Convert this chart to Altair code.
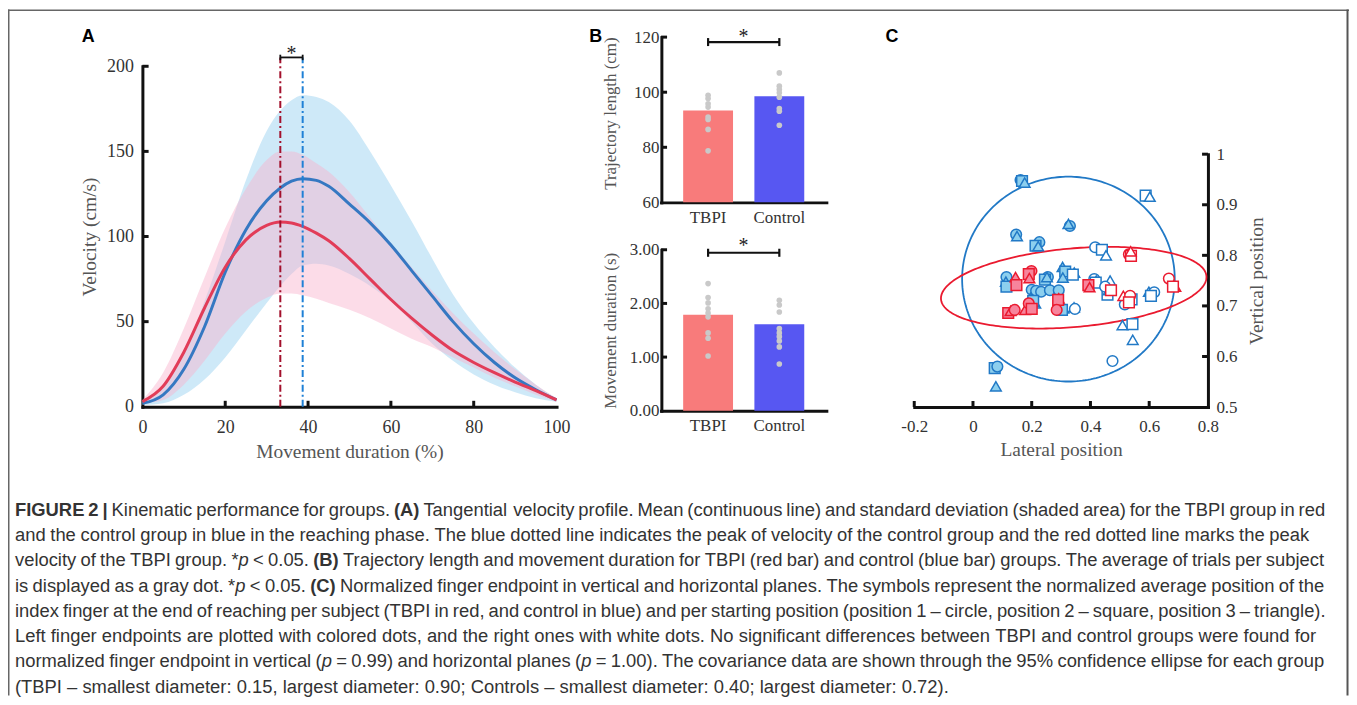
import re
import numpy as np
import pandas as pd
import altair as alt

W, H = 1347, 689
SERIF = "Liberation Serif"
SANS = "Liberation Sans"
AX = "#111111"

# ---------------- Panel A : velocity profile ----------------
pct = [0, 5, 10, 15, 20, 25, 30, 33.3, 36, 38.7, 42, 45, 50, 55, 60, 65, 70, 75, 80, 85, 90, 95, 100]
ctrl_mean = [2, 7, 22, 47, 79, 104, 121, 128.5, 132.5, 134, 133, 129.5, 119, 108, 95, 80, 65, 50, 37, 26, 17, 10, 4]
ctrl_upper = [3, 11, 32, 62, 97, 133, 162, 174, 180, 183, 182, 179, 168, 150, 130, 109, 87, 66, 49, 35, 23, 13, 5]
ctrl_lower = [1, 2, 7, 16, 29, 45, 61, 71, 78, 83, 84, 83, 78, 71, 62, 50, 37, 27, 19, 13, 8.5, 5, 3]
tbpi_mean = [3, 12, 32, 58, 82, 98, 106.5, 108.5, 108, 106, 102, 97.5, 87, 75, 63, 52, 42, 33, 26, 20, 14.5, 9.5, 4]
tbpi_upper = [4, 20, 46, 76, 105, 128, 145, 150, 150, 148, 143, 138, 126, 111, 96, 82, 68, 55, 43, 32, 22, 13, 5]
tbpi_lower = [2, 4, 13, 27, 43, 56, 64, 66.5, 66.5, 65.5, 63.5, 61, 57, 52, 46, 40, 35, 29, 23, 17, 12, 7, 3]
peak_tbpi = 33.3
peak_ctrl = 38.7
a_xticks = [0, 20, 40, 60, 80, 100]
a_yticks = [0, 50, 100, 150, 200]

# ---------------- Panel B : bars ----------------
groups = ["TBPI", "Control"]
traj_mean = [93.4, 98.5]
traj_tbpi_trials = [98.9, 97.7, 95.8, 94.6, 91.0, 90.1, 86.5, 78.7]
traj_ctrl_trials = [107.0, 102.2, 101.0, 99.8, 98.2, 94.1, 93.1, 88.0]
dur_mean = [1.79, 1.61]
dur_tbpi_trials = [2.37, 2.11, 2.01, 1.90, 1.82, 1.75, 1.45, 1.35, 1.02]
dur_ctrl_trials = [2.06, 1.97, 1.84, 1.53, 1.45, 1.38, 1.30, 1.19, 0.87]
b1_yticks = [60, 80, 100, 120]
b2_yticks = [0, 1, 2, 3]

# ---------------- Panel C : endpoints ----------------
c_group = (["Control"] * 57) + (["TBPI"] * 26)
c_side = (["Left"] * 32) + (["Right"] * 25) + (["Left"] * 16) + (["Right"] * 10)
c_shape = [
    "circle", "square", "triangle", "circle", "triangle", "circle", "triangle", "circle", "square", "triangle",
    "circle", "triangle", "square", "circle", "square", "triangle", "triangle", "square", "triangle", "circle",
    "circle", "circle", "circle", "triangle", "triangle", "square", "circle", "triangle", "square", "square",
    "circle", "triangle",
    "square", "triangle", "circle", "square", "triangle", "triangle", "square", "triangle", "circle", "circle",
    "triangle", "square", "triangle", "square", "triangle", "circle", "circle", "square", "triangle", "circle",
    "square", "triangle", "square", "triangle", "circle",
    "triangle", "square", "circle", "square", "triangle", "triangle", "square", "circle", "square", "triangle",
    "circle", "triangle", "circle", "square", "square", "triangle",
    "circle", "square", "triangle", "triangle", "circle", "square", "circle", "triangle", "square", "square",
]
c_x = [
    0.162, 0.167, 0.176, 0.330, 0.325, 0.147, 0.150, 0.226, 0.213, 0.222,
    0.114, 0.112, 0.114, 0.255, 0.245, 0.252, 0.305, 0.314, 0.306, 0.200,
    0.215, 0.232, 0.262, 0.196, 0.212, 0.205, 0.292, 0.308, 0.303, 0.074,
    0.083, 0.078,
    0.588, 0.602, 0.416, 0.439, 0.453, 0.345, 0.340, 0.344, 0.347, 0.413,
    0.420, 0.418, 0.467, 0.458, 0.462, 0.450, 0.517, 0.540, 0.599, 0.617,
    0.606, 0.509, 0.543, 0.544, 0.475,
    0.145, 0.148, 0.199, 0.190, 0.192, 0.292, 0.290, 0.285, 0.120, 0.128,
    0.142, 0.177, 0.190, 0.200, 0.393, 0.397,
    0.531, 0.538, 0.537, 0.512, 0.535, 0.531, 0.667, 0.689, 0.681, 0.470,
]
c_y = [
    0.949, 0.947, 0.944, 0.858, 0.862, 0.841, 0.838, 0.826, 0.819, 0.818,
    0.757, 0.748, 0.738, 0.757, 0.752, 0.757, 0.777, 0.768, 0.756, 0.732,
    0.730, 0.728, 0.731, 0.716, 0.705, 0.710, 0.731, 0.695, 0.692, 0.577,
    0.580, 0.541,
    0.918, 0.916, 0.816, 0.811, 0.800, 0.766, 0.762, 0.697, 0.694, 0.753,
    0.750, 0.746, 0.750, 0.722, 0.731, 0.738, 0.703, 0.713, 0.728, 0.727,
    0.720, 0.662, 0.664, 0.633, 0.591,
    0.757, 0.741, 0.769, 0.763, 0.755, 0.715, 0.712, 0.692, 0.686, 0.690,
    0.692, 0.692, 0.705, 0.694, 0.741, 0.737,
    0.802, 0.799, 0.808, 0.720, 0.720, 0.707, 0.754, 0.738, 0.738, 0.731,
]
# 95% confidence ellipses: centre, first and second semi-axis vectors
ell_group = ["Control", "TBPI"]
ell_center = [(0.325, 0.753), (0.343, 0.736)]
ell_axis1 = [(0.362, 0.0), (0.452, 0.021)]
ell_axis2 = [(0.0, 0.2025), (0.0, 0.078)]
c_xticks = [-0.2, 0, 0.2, 0.4, 0.6, 0.8]
c_yticks = [0.5, 0.6, 0.7, 0.8, 0.9, 1.0]

# ---------------- Caption ----------------
caption_lines = [
    "**FIGURE 2 |** Kinematic performance for groups. **(A)** Tangential velocity profile. Mean (continuous line) and standard deviation (shaded area) for the TBPI group in red",
    "and the control group in blue in the reaching phase. The blue dotted line indicates the peak of velocity of the control group and the red dotted line marks the peak",
    "velocity of the TBPI group. *_p_ < 0.05. **(B)** Trajectory length and movement duration for TBPI (red bar) and control (blue bar) groups. The average of trials per subject",
    "is displayed as a gray dot. *_p_ < 0.05. **(C)** Normalized finger endpoint in vertical and horizontal planes. The symbols represent the normalized average position of the",
    "index finger at the end of reaching per subject (TBPI in red, and control in blue) and per starting position (position 1 \u2013 circle, position 2 \u2013 square, position 3 \u2013 triangle).",
    "Left finger endpoints are plotted with colored dots, and the right ones with white dots. No significant differences between TBPI and control groups were found for",
    "normalized finger endpoint in vertical (_p_ = 0.99) and horizontal planes (_p_ = 1.00). The covariance data are shown through the 95% confidence ellipse for each group",
    "(TBPI \u2013 smallest diameter: 0.15, largest diameter: 0.90; Controls \u2013 smallest diameter: 0.40; largest diameter: 0.72).",
]
caption_right = [1331, 1315, 1330, 1330, 1331.5, 1322, 1330, None]
caption_left = 15
caption_top = 510.5
caption_step = 25.4
panel_letters = ["A", "B", "C"]
panel_letter_x = [88.7, 598.3, 896]
panel_letter_y = 35

# ===================================================================
def bottom_axis(values, axis_y, title, lsize, tsize, lpad, title_dy, label_expr=None, fmt=None):
    kw = dict(orient="bottom", offset=axis_y - 8 - H, ticks=False, tickSize=0,
              domainWidth=3, domainColor=AX, domainCap="square", grid=False,
              labelFont=SERIF, labelFontSize=lsize, labelColor="#333333", labelPadding=lpad,
              labelBaseline="middle", labelAlign="center", labelAngle=0, labelFlush=False, labelOverlap=False,
              titleFont=SERIF, titleFontSize=tsize, titleFontWeight="normal", titleColor="#555555",
              titleY=title_dy, titleBaseline="middle")
    kw["title"] = title if title else ""
    if values is not None:
        kw["values"] = values
    if label_expr:
        kw["labelExpr"] = label_expr
    if fmt:
        kw["format"] = fmt
    return alt.Axis(**kw)


def side_axis(values, orient, axis_x, title, lsize, tsize, lpad, title_dx, title_y=None, fmt=None):
    off = (-(axis_x - 8)) if orient == "left" else (axis_x - 8 - W)
    kw = dict(values=values, orient=orient, offset=off, title=title, ticks=False, tickSize=0,
              domainWidth=3, domainColor=AX, domainCap="square", grid=False,
              labelFont=SERIF, labelFontSize=lsize, labelColor="#333333", labelPadding=lpad,
              labelBaseline="middle", labelAlign="right" if orient == "left" else "left", labelAngle=0,
              labelFlush=False, labelOverlap=False,
              titleFont=SERIF, titleFontSize=tsize, titleFontWeight="normal", titleColor="#555555",
              titleX=title_dx, titleBaseline="middle", titleAngle=270, titleAlign="center")
    if title_y is not None:
        kw["titleY"] = title_y
    if fmt:
        kw["format"] = fmt
    return alt.Axis(**kw)

# ---------------- Panel A ----------------
A_x = alt.Scale(domain=[0, 100], range=[143 - 8, 559 - 8], nice=False, zero=False)
A_y = alt.Scale(domain=[0, 200], range=[407 - 8, 65 - 8], nice=False, zero=False)
dfA = pd.DataFrame({"pct": pct, "cm": ctrl_mean, "cu": ctrl_upper, "cl": ctrl_lower,
                    "tm": tbpi_mean, "tu": tbpi_upper, "tl": tbpi_lower})
axA_x = bottom_axis(a_xticks, 407, "Movement duration (%)", 18, 19.5, 21, 44.5)
axA_y = side_axis(a_yticks, "left", 143, "Velocity (cm/s)", 18, 19.5, 9, -53)

baseA = alt.Chart(dfA)
A_band_c = baseA.mark_area(color="#9dd3f2", opacity=0.5, interpolate="monotone").encode(
    x=alt.X("pct:Q", scale=A_x, axis=axA_x), y=alt.Y("cu:Q", scale=A_y, axis=axA_y), y2="cl:Q")
A_band_t = baseA.mark_area(color="#f8b1cc", opacity=0.45, interpolate="monotone").encode(
    x=alt.X("pct:Q", scale=A_x), y=alt.Y("tu:Q", scale=A_y), y2="tl:Q")
A_line_c = baseA.mark_line(color="#3578c2", strokeWidth=3, interpolate="monotone").encode(
    x=alt.X("pct:Q", scale=A_x), y=alt.Y("cm:Q", scale=A_y))
A_line_t = baseA.mark_line(color="#e23c58", strokeWidth=3, interpolate="monotone").encode(
    x=alt.X("pct:Q", scale=A_x), y=alt.Y("tm:Q", scale=A_y))
one = pd.DataFrame({"k": [0]})
A_peak_t = alt.Chart(one).mark_rule(color="#a3102c", strokeWidth=2, strokeDash=[7, 3, 2, 3]).encode(
    x=alt.XDatum(peak_tbpi, scale=A_x), y=alt.YDatum(0, scale=A_y), y2=alt.Y2Datum(205.2))
A_peak_c = alt.Chart(one).mark_rule(color="#1f80d6", strokeWidth=2, strokeDash=[7, 3, 2, 3]).encode(
    x=alt.XDatum(peak_ctrl, scale=A_x), y=alt.YDatum(0, scale=A_y), y2=alt.Y2Datum(205.2))
A_br = alt.Chart(one).mark_rule(color=AX, strokeWidth=1.8).encode(
    x=alt.XDatum(peak_tbpi, scale=A_x), x2=alt.X2Datum(peak_ctrl),
    y=alt.YDatum(205.2, scale=A_y))
A_br_ends = alt.Chart(pd.DataFrame({"p": [peak_tbpi, peak_ctrl]})).mark_rule(color=AX, strokeWidth=1.8).encode(
    x=alt.X("p:Q", scale=A_x), y=alt.YDatum(203.6, scale=A_y), y2=alt.Y2Datum(206.8))
A_star = alt.Chart(one).mark_text(text="*", font=SERIF, fontSize=20, baseline="alphabetic", color="#222222").encode(
    x=alt.XDatum((peak_tbpi + peak_ctrl) / 2, scale=A_x), y=alt.YDatum(203.8, scale=A_y))
A_xt = alt.Chart(pd.DataFrame({"t": a_xticks[1:-1]})).mark_rule(color=AX, strokeWidth=3).encode(
    x=alt.X("t:Q", scale=A_x), y=alt.YDatum(0, scale=A_y), y2=alt.Y2Datum(3.5))
A_yt = alt.Chart(pd.DataFrame({"t": a_yticks[1:]})).mark_rule(color=AX, strokeWidth=3).encode(
    y=alt.Y("t:Q", scale=A_y), x=alt.XDatum(0, scale=A_x), x2=alt.X2Datum(1.5))
panelA = alt.layer(A_band_c, A_band_t, A_line_c, A_line_t, A_peak_t, A_peak_c, A_br, A_br_ends, A_star, A_xt, A_yt)

# ---------------- Panel B ----------------
def panel_b(means, t_trials, c_trials, yscale, yticks, axis_y, y_title, title_y, fmt, br_y, br_h, star_y):
    B_x = alt.Scale(type="band", domain=groups, range=[664 - 8, 830 - 8], paddingInner=0.3, paddingOuter=0.31)
    axx = bottom_axis(None, axis_y, None, 17, 17, 15, 0)
    axy = side_axis(yticks, "left", 664.3, y_title, 17, 17, 2.5, -51, title_y=title_y, fmt=fmt)
    dfb = pd.DataFrame({"g": groups, "m": means})
    dfd = pd.DataFrame({"g": ["TBPI"] * len(t_trials) + ["Control"] * len(c_trials),
                        "v": list(t_trials) + list(c_trials)})
    bars = alt.Chart(dfb).mark_bar().encode(
        x=alt.X("g:N", scale=B_x, axis=axx, sort=groups),
        y=alt.Y("m:Q", scale=yscale, axis=axy), y2=alt.Y2Datum(yticks[0]),
        color=alt.Color("g:N", scale=alt.Scale(domain=groups, range=["#f87b7b", "#5757f2"]), legend=None))
    dots = alt.Chart(dfd).mark_circle(size=32, color="#c9c9c9", opacity=1).encode(
        x=alt.X("g:N", scale=B_x, sort=groups), y=alt.Y("v:Q", scale=yscale))
    br = alt.Chart(pd.DataFrame({"g": groups})).mark_line(color=AX, strokeWidth=2.2).encode(
        x=alt.X("g:N", scale=B_x, sort=groups), y=alt.YDatum(br_y, scale=yscale))
    br_ends = alt.Chart(pd.DataFrame({"g": groups})).mark_rule(color=AX, strokeWidth=2.2).encode(
        x=alt.X("g:N", scale=B_x, sort=groups),
        y=alt.YDatum(br_y - br_h, scale=yscale), y2=alt.Y2Datum(br_y + br_h))
    star = alt.Chart(one).mark_text(text="*", font=SERIF, fontSize=20, baseline="alphabetic", dx=35.6,
                                    color="#222222").encode(
        x=alt.XDatum("TBPI", type="nominal", scale=B_x), y=alt.YDatum(star_y, scale=yscale))
    yt = alt.Chart(pd.DataFrame({"t": yticks[1:]})).mark_rule(color=AX, strokeWidth=3).encode(
        y=alt.Y("t:Q", scale=yscale), x=alt.value(664 - 8), x2=alt.value(670 - 8))
    return alt.layer(bars, dots, br, br_ends, star, yt)

B1_y = alt.Scale(domain=[60, 120], range=[201.7 - 8, 35.7 - 8], nice=False, zero=False)
B2_y = alt.Scale(domain=[0, 3], range=[411 - 8, 249.3 - 8], nice=False, zero=False)
panelB1 = panel_b(traj_mean, traj_tbpi_trials, traj_ctrl_trials, B1_y, b1_yticks, 201.7,
                  "Trajectory length (cm)", 112 - 8, None, 118.2, 1.45, 117.7)
panelB2 = panel_b(dur_mean, dur_tbpi_trials, dur_ctrl_trials, B2_y, b2_yticks, 411,
                  "Movement duration (s)", None, ".2f", 2.944, 0.075, 2.95)

# ---------------- Panel C ----------------
C_x = alt.Scale(domain=[-0.2, 0.8], range=[918.3 - 8, 1213.3 - 8], nice=False, zero=False)
C_y = alt.Scale(domain=[0.5, 1.0], range=[407.3 - 8, 153.3 - 8], nice=False, zero=False)
axC_x = bottom_axis(c_xticks, 407.3, "Lateral position", 17, 19.5, 19.5, 43,
                    label_expr="replace(format(datum.value, '~g'), '\u2212', '-')")
axC_y = side_axis(c_yticks, "right", 1213.3, "Vertical position", 17, 19.5, 8, 48.7, fmt="~g")
dfC = pd.DataFrame({"x": c_x, "y": c_y, "group": c_group, "shape": c_shape, "side": c_side})
t = np.linspace(0, 2 * np.pi, 241)
ell_rows = []
for g, (cx, cy), (ax1, ay1), (ax2, ay2) in zip(ell_group, ell_center, ell_axis1, ell_axis2):
    for k, tt in enumerate(t):
        ell_rows.append({"group": g, "o": k,
                         "x": cx + ax1 * np.cos(tt) + ax2 * np.sin(tt),
                         "y": cy + ay1 * np.cos(tt) + ay2 * np.sin(tt)})
dfE = pd.DataFrame(ell_rows)
stroke_scale = alt.Scale(domain=["TBPI", "Control"], range=["#ea1a2f", "#2179c6"])
C_ell = alt.Chart(dfE).mark_line(strokeWidth=1.8).encode(
    x=alt.X("x:Q", scale=C_x, axis=axC_x), y=alt.Y("y:Q", scale=C_y, axis=axC_y),
    order="o:Q", detail="group:N", stroke=alt.Stroke("group:N", scale=stroke_scale, legend=None))
C_pts = alt.Chart(dfC).transform_calculate(fk="datum.group + '-' + datum.side").mark_point(
    size=115, strokeWidth=1.5, opacity=1, fillOpacity=1).encode(
    x=alt.X("x:Q", scale=C_x), y=alt.Y("y:Q", scale=C_y),
    shape=alt.Shape("shape:N", scale=alt.Scale(domain=["circle", "square", "triangle"],
                                                range=["circle", "square", "triangle-up"]), legend=None),
    fill=alt.Fill("fk:N", scale=alt.Scale(domain=["TBPI-Left", "TBPI-Right", "Control-Left", "Control-Right"],
                                          range=["#f7849c", "#ffffff", "#8ccfee", "#ffffff"]), legend=None),
    stroke=alt.Stroke("group:N", scale=stroke_scale, legend=None))
C_xt = alt.Chart(pd.DataFrame({"t": c_xticks[:-1]})).mark_rule(color=AX, strokeWidth=3).encode(
    x=alt.X("t:Q", scale=C_x), y=alt.YDatum(0.5, scale=C_y), y2=alt.Y2Datum(0.512))
C_yt = alt.Chart(pd.DataFrame({"t": c_yticks[1:]})).mark_rule(color=AX, strokeWidth=3).encode(
    y=alt.Y("t:Q", scale=C_y), x=alt.XDatum(0.8, scale=C_x), x2=alt.X2Datum(0.78))
panelC = alt.layer(C_ell, C_pts, C_xt, C_yt)

# ---------------- Caption layout (Arial/Liberation Sans metrics) ----------------
REG_W = {' ': 278, '!': 278, '%': 889, '(': 333, ')': 333, '*': 389, ',': 278, '-': 333, '.': 278, '/': 278,
         ':': 278, ';': 278, '<': 584, '=': 584, '>': 584, '|': 260, '\u2013': 556,
         'A': 667, 'B': 667, 'C': 722, 'D': 722, 'E': 667, 'F': 611, 'G': 778, 'H': 722, 'I': 278, 'J': 500,
         'K': 667, 'L': 556, 'M': 833, 'N': 722, 'O': 778, 'P': 667, 'Q': 778, 'R': 722, 'S': 667, 'T': 611,
         'U': 722, 'V': 667, 'W': 944, 'X': 667, 'Y': 667, 'Z': 611,
         'a': 556, 'b': 556, 'c': 500, 'd': 556, 'e': 556, 'f': 278, 'g': 556, 'h': 556, 'i': 222, 'j': 222,
         'k': 500, 'l': 222, 'm': 833, 'n': 556, 'o': 556, 'p': 556, 'q': 556, 'r': 333, 's': 500, 't': 278,
         'u': 556, 'v': 500, 'w': 722, 'x': 500, 'y': 500, 'z': 500}
for d in "0123456789":
    REG_W[d] = 556
BOLD_W = dict(REG_W)
BOLD_W.update({'A': 722, 'B': 722, 'C': 722, 'E': 667, 'F': 611, 'G': 778, 'I': 278, 'R': 722, 'U': 722,
               '|': 280, '(': 333, ')': 333})


def runs_of(line):
    out = []
    for part in re.split(r'(\*\*[^*]+\*\*|_[^_]+_)', line):
        if not part:
            continue
        if part.startswith('**') and part.endswith('**') and len(part) > 4:
            out.append((part[2:-2], 'b'))
        elif part.startswith('_') and part.endswith('_') and len(part) > 2:
            out.append((part[1:-1], 'i'))
        else:
            out.append((part, 'n'))
    return out


def words_of(runs):
    words = [[]]
    for text, st in runs:
        pieces = text.split(' ')
        for k, p in enumerate(pieces):
            if k > 0:
                words.append([])
            if p:
                words[-1].append((p, st))
    return [w for w in words if w]


def units(s, st):
    tab = BOLD_W if st == 'b' else REG_W
    return sum(tab.get(ch, 556) for ch in s)


last = words_of(runs_of(caption_lines[-1]))
last_units = sum(units(p, s) for w in last for p, s in w) + (len(last) - 1) * 278
FS = 938.0 / (last_units / 1000.0)

cap_rows = []
for li, line in enumerate(caption_lines):
    words = words_of(runs_of(line))
    wws = [sum(units(p, s) for p, s in w) * FS / 1000 for w in words]
    space = 278 * FS / 1000
    if caption_right[li] is not None and len(words) > 1:
        gap = (caption_right[li] - caption_left - sum(wws)) / (len(words) - 1)
    else:
        gap = space
    xx = caption_left
    yy = caption_top + li * caption_step
    for w, ww in zip(words, wws):
        x0 = xx
        for p, s in w:
            cap_rows.append({"text": p, "st": s, "px": x0 - 8, "py": yy - 8})
            x0 += units(p, s) * FS / 1000
        xx += ww + gap
dfCap = pd.DataFrame(cap_rows)


def cap_layer(st, weight, style):
    return alt.Chart(dfCap).transform_filter(alt.datum.st == st).mark_text(
        font=SANS, fontSize=FS, fontWeight=weight, fontStyle=style, align="left", baseline="middle",
        color="#333333").encode(
        x=alt.X("px:Q", scale=None, axis=None), y=alt.Y("py:Q", scale=None, axis=None), text="text:N")

dfLet = pd.DataFrame({"t": panel_letters, "px": [v - 8 for v in panel_letter_x],
                      "py": [panel_letter_y - 8 + 1] * 3})
letters = alt.Chart(dfLet).mark_text(font=SANS, fontSize=18, fontWeight="bold", align="center",
                                     baseline="middle", color="#000000").encode(
    x=alt.X("px:Q", scale=None, axis=None), y=alt.Y("py:Q", scale=None, axis=None), text="t:N")

frame_l = alt.Chart(one).mark_rule(color="#666666", strokeWidth=1.5).encode(
    x=alt.value(0.75), y=alt.value(0), y2=alt.value(H))
frame_t = alt.Chart(one).mark_rule(color="#666666", strokeWidth=1.5).encode(
    x=alt.value(0), x2=alt.value(W), y=alt.value(0.75))
frame_r = alt.Chart(one).mark_rule(color="#555555", strokeWidth=2).encode(
    x=alt.value(W - 1.5), y=alt.value(0), y2=alt.value(H))
textlayer = alt.layer(cap_layer('n', 'normal', 'normal'), cap_layer('b', 'bold', 'normal'),
                      cap_layer('i', 'normal', 'italic'), letters, frame_l, frame_t, frame_r)

chart = alt.layer(panelA, panelB1, panelB2, panelC, textlayer).resolve_scale(
    x="independent", y="independent", color="independent", fill="independent",
    stroke="independent", shape="independent").properties(
    width=W, height=H, autosize=alt.AutoSizeParams(type="none"), padding=0,
    background="#ffffff").configure_view(stroke=None)

chart.save("out.html", embed_options={"renderer": "svg", "actions": False})
